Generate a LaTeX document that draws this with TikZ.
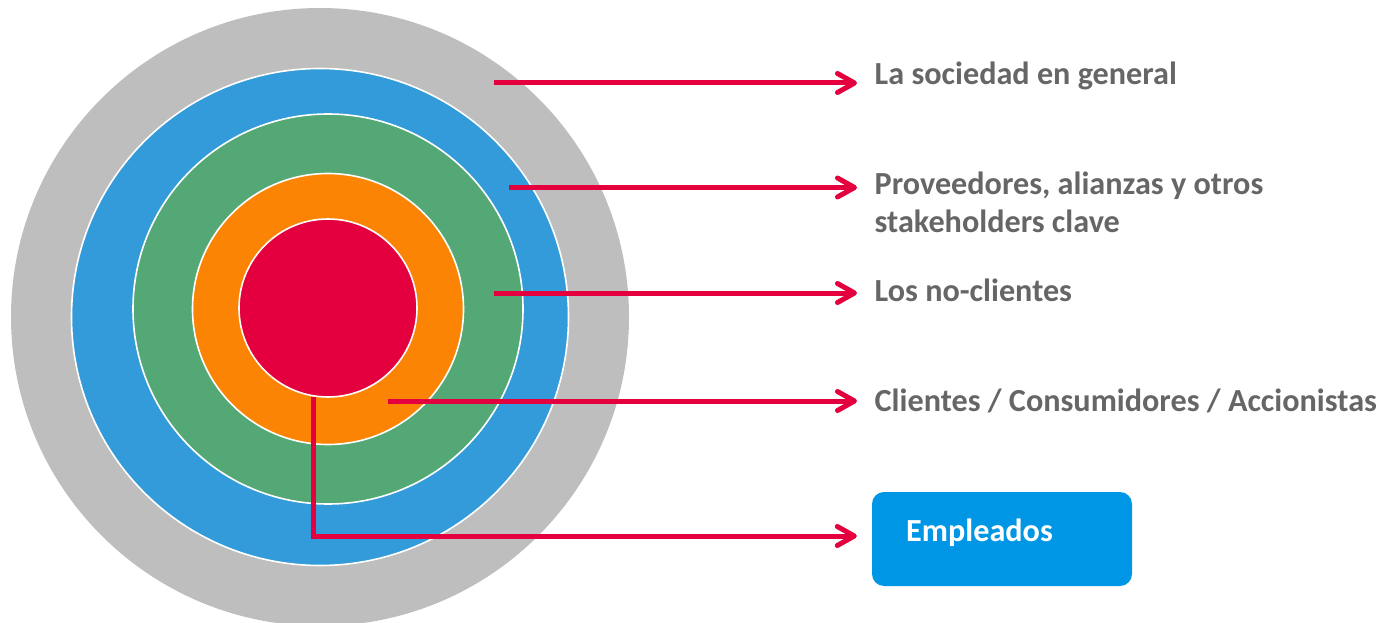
\documentclass[tikz,border=0pt]{standalone}
\usepackage{fontspec}
\setmainfont{Carlito}
\usetikzlibrary{arrows.meta,calc}
\definecolor{ringgray}{HTML}{BEBEBE}
\definecolor{ringblue}{HTML}{339BDA}
\definecolor{ringgreen}{HTML}{54A876}
\definecolor{ringorange}{HTML}{FC8404}
\definecolor{corered}{HTML}{E4003F}
\definecolor{labelgray}{HTML}{666666}
\definecolor{boxblue}{HTML}{0096E6}
\begin{document}
\begin{tikzpicture}[x=1pt,y=-1pt,
  ring/.style={circle, draw=white, line width=1.6pt, inner sep=0pt, minimum size=#1},
  lbl/.style={anchor=base west, inner sep=0pt, text=labelgray,
    font=\bfseries\fontsize{32.2}{38.7}\selectfont, align=left},
  link/.style={draw=corered, line width=5pt,
    -{Straight Barb[length=17pt,width=19pt,round]}},
]
\useasboundingbox (0,0) rectangle (1382,623);

% concentric rings of stakeholders
\begin{scope}
  \clip (0,0) rectangle (1382,623);
  \node[ring=618pt, fill=ringgray, draw=none] (society) at (320,317) {};
\end{scope}
\node[ring=497pt, fill=ringblue]   (partners)  at (320,317) {};
\node[ring=390pt, fill=ringgreen]  (noncust)   at (328,309) {};
\node[ring=271pt, fill=ringorange] (customers) at (328,309) {};
\node[ring=178pt, fill=corered]    (core)      at (328,308) {};

% labels (base anchor of a two-line label is its last line)
\node[lbl] (t1) at (874.5,85)    {La sociedad en general};
\node[lbl] (t2) at (874.5,232.7) {Proveedores, alianzas y otros\\stakeholders clave};
\node[lbl] (t3) at (874.5,301.5) {Los no-clientes};
\node[lbl] (t4) at (874.5,411)   {Clientes / Consumidores / Accionistas};

\node[fill=boxblue, rounded corners=12pt, minimum width=260pt,
      minimum height=94pt, inner sep=0pt] (staff) at (1002,539) {};
\node[anchor=base west, inner sep=0pt, text=white,
      font=\bfseries\fontsize{32.2}{38.7}\selectfont] (stafftext) at (906,541.7) {Empleados};

% arrow start points inside the rings
\coordinate (a1) at (494,83);
\coordinate (a2) at (509,187.5);
\coordinate (a3) at (494,293);
\coordinate (a4) at (388,401);
\coordinate (a5) at (313,397);

\draw[link] (a1) -- ($(a1 -| t1.west)+(-17.5,0)$);
\draw[link] (a2) -- ($(a2 -| t2.west)+(-17.5,0)$);
\draw[link] (a3) -- ($(a3 -| t3.west)+(-17.5,0)$);
\draw[link] (a4) -- ($(a4 -| t4.west)+(-17.5,0)$);
\draw[link] (a5) |- ($(staff.west)+(-15,-3)$);
\end{tikzpicture}
\end{document}
